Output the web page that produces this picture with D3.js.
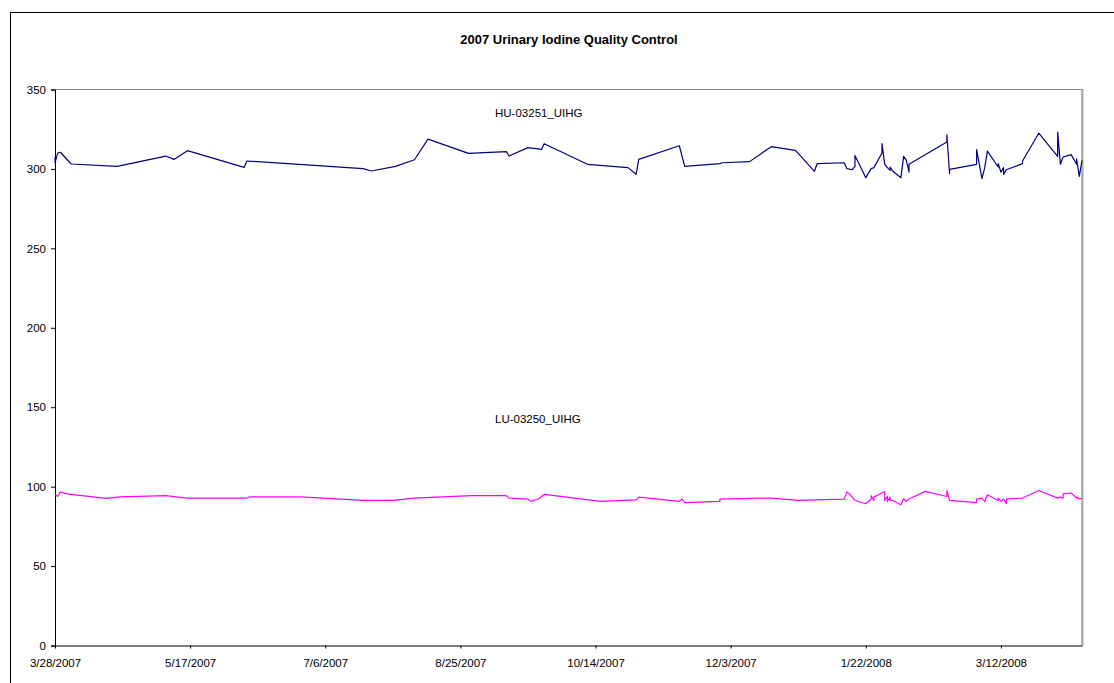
<!DOCTYPE html>
<html>
<head>
<meta charset="utf-8">
<script src="https://cdn.jsdelivr.net/npm/d3@7"></script>
<style>
  body { margin: 0; background: #fff; }
  text { font-family: "Liberation Sans", Arial, sans-serif; }
</style>
</head>
<body>
<svg id="chart" width="1114" height="683"></svg>
<script>
const width = 1114;
const height = 683;
const margin = { top: 89.5, right: 32, bottom: 37.5, left: 55 };

const chartTitle = "2007 Urinary Iodine Quality Control";

// high control HU-03251_UIHG
const huDates = ["3/28/2007", "3/28/2007", "3/29/2007", "3/30/2007", "4/3/2007", "4/20/2007", "5/8/2007", "5/11/2007", "5/16/2007",
    "6/6/2007", "6/7/2007", "7/20/2007", "7/23/2007", "8/1/2007", "8/8/2007", "8/13/2007", "8/28/2007", "9/11/2007",
    "9/12/2007", "9/19/2007", "9/24/2007", "9/25/2007", "10/11/2007", "10/26/2007", "10/29/2007", "10/30/2007",
    "11/14/2007", "11/16/2007", "11/29/2007", "11/30/2007", "12/10/2007", "12/18/2007", "12/27/2007", "1/3/2008",
    "1/4/2008", "1/14/2008", "1/15/2008", "1/17/2008", "1/18/2008", "1/18/2008", "1/22/2008", "1/24/2008", "1/25/2008",
    "1/28/2008", "1/28/2008", "1/29/2008", "1/30/2008", "1/31/2008", "1/31/2008", "2/1/2008", "2/4/2008", "2/5/2008",
    "2/6/2008", "2/7/2008", "2/7/2008", "2/21/2008", "2/21/2008", "2/22/2008", "2/22/2008", "3/3/2008", "3/3/2008",
    "3/5/2008", "3/6/2008", "3/7/2008", "3/11/2008", "3/11/2008", "3/12/2008", "3/13/2008", "3/13/2008", "3/14/2008",
    "3/20/2008", "3/20/2008", "3/26/2008", "4/2/2008", "4/2/2008", "4/3/2008", "4/4/2008", "4/7/2008", "4/9/2008",
    "4/9/2008", "4/10/2008", "4/11/2008"];
const huValues = [307.3, 304.0, 310.0, 310.5, 303.1, 301.6, 308.1, 306.0, 311.5,
    301.0, 305.0, 300.2, 298.7, 301.6, 305.8, 318.8, 309.8, 310.9,
    308.1, 313.4, 312.3, 315.9, 302.9, 300.8, 296.6, 306.0,
    314.6, 301.6, 303.3, 303.9, 304.6, 314.0, 311.7, 298.5,
    303.3, 303.9, 300.2, 299.5, 301.6, 308.5, 294.5, 300.2, 300.8,
    310.0, 315.9, 302.9, 300.8, 299.1, 301.2, 298.5, 294.5, 307.9,
    305.4, 298.0, 302.9, 316.9, 321.5, 297.0, 299.7, 302.9, 312.1,
    293.9, 300.8, 311.2, 301.2, 303.3, 298.0, 300.8, 296.6, 299.5,
    303.3, 305.0, 322.5, 307.9, 323.2, 302.9, 307.5, 309.0, 302.9,
    306.4, 295.3, 305.4];

// low control LU-03250_UIHG
const luDates = ["3/28/2007", "3/29/2007", "3/30/2007", "4/2/2007", "4/16/2007", "4/21/2007", "5/8/2007", "5/16/2007",
    "6/7/2007", "6/8/2007", "6/27/2007", "7/20/2007", "7/31/2007", "8/8/2007", "8/29/2007", "9/11/2007", "9/12/2007",
    "9/19/2007", "9/20/2007", "9/23/2007", "9/25/2007", "10/16/2007", "10/29/2007", "10/30/2007", "11/14/2007",
    "11/15/2007", "11/16/2007", "11/29/2007", "11/29/2007", "12/14/2007", "12/18/2007", "12/28/2007", "1/14/2008",
    "1/15/2008", "1/16/2008", "1/18/2008", "1/22/2008", "1/24/2008", "1/24/2008", "1/25/2008", "1/25/2008", "1/28/2008",
    "1/29/2008", "1/29/2008", "1/30/2008", "1/30/2008", "1/31/2008", "1/31/2008", "2/1/2008", "2/4/2008", "2/5/2008",
    "2/6/2008", "2/7/2008", "2/13/2008", "2/21/2008", "2/21/2008", "2/22/2008", "3/3/2008", "3/3/2008", "3/5/2008",
    "3/6/2008", "3/7/2008", "3/11/2008", "3/11/2008", "3/12/2008", "3/13/2008", "3/14/2008", "3/14/2008", "3/20/2008",
    "3/26/2008", "4/2/2008", "4/3/2008", "4/4/2008", "4/4/2008", "4/7/2008", "4/9/2008", "4/9/2008", "4/10/2008",
    "4/11/2008"];
const luValues = [95.3, 93.8, 96.6, 95.3, 92.6, 93.6, 94.3, 92.8,
    92.8, 93.6, 93.6, 91.3, 91.3, 92.8, 94.3, 94.3, 92.8,
    92.2, 90.7, 92.4, 95.1, 90.7, 91.7, 93.4, 90.7,
    92.2, 90.0, 90.7, 92.2, 92.8, 92.8, 91.3, 92.2,
    96.6, 95.5, 91.3, 89.2, 92.2, 94.3, 91.3, 93.4, 96.0,
    96.8, 91.3, 93.8, 90.7, 93.4, 91.3, 91.3, 88.6, 92.4,
    90.7, 92.2, 97.0, 93.8, 97.4, 91.3, 90.0, 92.2, 92.8,
    90.7, 94.9, 91.3, 92.8, 90.7, 92.2, 89.2, 92.2, 92.8,
    97.6, 92.8, 93.4, 92.8, 95.5, 96.0, 92.8, 93.4, 92.4,
    92.4];

const xTickLabels = ["3/28/2007", "5/17/2007", "7/6/2007", "8/25/2007", "10/14/2007", "12/3/2007", "1/22/2008", "3/12/2008"];
const xDomain = ["3/28/2007", "4/11/2008"];
const yTicks = [0, 50, 100, 150, 200, 250, 300, 350];

const series = [
    { name: "HU-03251_UIHG", dates: huDates, values: huValues, color: "#000080", labelValue: 333 },
    { name: "LU-03250_UIHG", dates: luDates, values: luValues, color: "#ff00ff", labelValue: 140 }
];

const parseDate = d3.utcParse("%m/%d/%Y");

const svg = d3.select("#chart");

// chart area border
svg.append("rect")
    .attr("x", 10.5)
    .attr("y", 12.5)
    .attr("width", 1200)
    .attr("height", 800)
    .attr("fill", "#fff")
    .attr("stroke", "#000")
    .attr("stroke-width", 1);

const x = d3.scaleUtc()
    .domain(xDomain.map(parseDate))
    .range([margin.left, width - margin.right]);

const y = d3.scaleLinear()
    .domain([0, 350])
    .range([height - margin.bottom, margin.top]);

// plot area border (top + right)
svg.append("path")
    .attr("d", `M${margin.left},${y(350)}H${x.range()[1]}V${y(0)}`)
    .attr("fill", "none")
    .attr("stroke", "#888")
    .attr("stroke-width", 1);
svg.append("line")
    .attr("x1", x.range()[1] + 0.5).attr("x2", x.range()[1] + 0.5)
    .attr("y1", y(350)).attr("y2", y(0))
    .attr("stroke", "#aaa")
    .attr("stroke-width", 2);

// title
svg.append("text")
    .attr("x", 569)
    .attr("y", 44)
    .attr("text-anchor", "middle")
    .attr("font-size", "13px")
    .attr("font-weight", "bold")
    .text(chartTitle);

// y axis
const yAxis = d3.axisLeft(y)
    .tickValues(yTicks)
    .tickSize(4)
    .tickPadding(5)
    .tickFormat(d3.format("d"));

svg.append("g")
    .attr("class", "axis y")
    .attr("transform", `translate(${margin.left}, 0)`)
    .call(yAxis)
    .call(g => g.selectAll("text").attr("font-size", "11.5px").attr("font-family", "Liberation Sans, Arial, sans-serif").attr("fill", "#000"))
    .call(g => g.selectAll("line,path").attr("stroke", "#000"));

// x axis
const xTickDates = xTickLabels.map(parseDate);
const xAxis = d3.axisBottom(x)
    .tickValues(xTickDates)
    .tickSizeInner(3)
    .tickSizeOuter(0)
    .tickPadding(10)
    .tickFormat((d, i) => xTickLabels[i]);

svg.append("g")
    .attr("class", "axis x")
    .attr("transform", `translate(0, ${y(0)})`)
    .call(xAxis)
    .call(g => g.selectAll("text").attr("font-size", "11.5px").attr("font-family", "Liberation Sans, Arial, sans-serif").attr("fill", "#000"))
    .call(g => g.selectAll("line,path").attr("stroke", "#000"));

// lines
const line = d3.line()
    .x(d => x(d.date))
    .y(d => y(d.value));

series.forEach(s => {
    const pts = s.dates.map((d, i) => ({ date: parseDate(d), value: s.values[i] }));
    svg.append("path")
        .datum(pts)
        .attr("fill", "none")
        .attr("stroke", s.color)
        .attr("stroke-width", 1.2)
        .attr("stroke-linejoin", "round")
        .attr("d", line);

    svg.append("text")
        .attr("x", 495)
        .attr("y", y(s.labelValue))
        .attr("font-size", "11.5px")
        .attr("fill", "#000")
        .text(s.name);
});
</script>
</body>
</html>
